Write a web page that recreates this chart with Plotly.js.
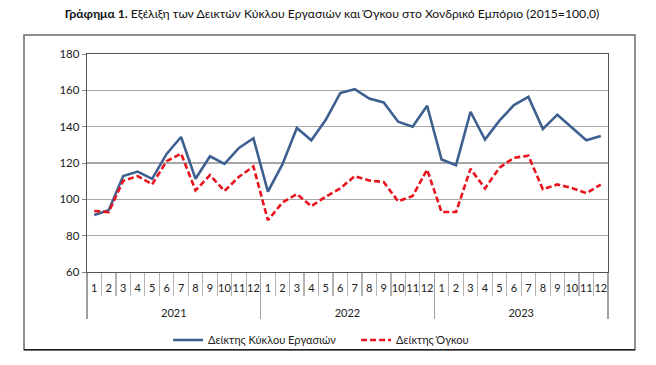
<!DOCTYPE html>
<html>
<head>
<meta charset="utf-8">
<script src="https://cdn.plot.ly/plotly-3.0.1.min.js"></script>
<style>
html,body{margin:0;padding:0;background:#fff;}
#chart{width:656px;height:365px;}
</style>
</head>
<body>
<div id="chart"></div>
<script>
const years = ['2021', '2022', '2023'];
const months = ['1','2','3','4','5','6','7','8','9','10','11','12'];
const turnoverIndex = [
  91.4, 94.0, 112.8, 115.3, 111.3, 125.0, 134.3, 111.3, 123.7, 119.5, 128.3, 133.6,
  104.2, 119.2, 139.3, 132.5, 143.8, 158.5, 160.6, 155.5, 153.3, 142.7, 140.0, 151.5,
  121.9, 118.8, 148.2, 132.9, 143.3, 151.9, 156.4, 138.7, 146.6, 139.6, 132.5, 134.9
];
const volumeIndex = [
  93.6, 93.0, 110.2, 112.8, 108.2, 121.0, 125.2, 104.9, 113.3, 104.6, 112.4, 118.1,
  88.5, 98.2, 102.9, 96.2, 101.5, 106.0, 112.8, 110.4, 109.5, 98.9, 101.8, 116.4,
  93.0, 93.0, 116.8, 106.0, 117.4, 122.9, 124.0, 105.5, 108.2, 106.2, 103.4, 108.1
];
const seriesNames = ['Δείκτης Κύκλου Εργασιών', 'Δείκτης Όγκου'];
const yTicks = [60, 80, 100, 120, 140, 160, 180];

// category keys (one per month) and their month labels
const xKeys = [], xMonthText = [];
years.forEach(y => months.forEach(m => { xKeys.push(y + '-' + m); xMonthText.push(m); }));
// year group centres and boundaries in category-index units
const n = months.length;
const xRange = [-0.5, xKeys.length - 0.5];
const yearCentres = years.map((_, i) => i * n + (n - 1) / 2);
const yearBounds = [-0.5].concat(years.map((_, i) => (i + 1) * n - 0.5));

const FONT = 'Lato, "Open Sans", sans-serif';

const traces = [
  {x: xKeys, y: turnoverIndex, name: seriesNames[0], type: 'scatter', mode: 'lines',
   line: {color: '#3d6091', width: 2.6}},
  {x: xKeys, y: volumeIndex, name: seriesNames[1], type: 'scatter', mode: 'lines',
   line: {color: '#e8141e', width: 2.6, dash: '6px,3px'}},
  {x: [null], y: [null], xaxis: 'x2', yaxis: 'y', showlegend: false, hoverinfo: 'skip', type: 'scatter', mode: 'lines'}
];

const layout = {
  width: 656, height: 365,
  margin: {l: 87, r: 48, t: 54, b: 92},
  paper_bgcolor: '#fff', plot_bgcolor: '#fff',
  font: {family: FONT, size: 11, color: '#222'},
  title: {text: '<b>Γράφημα 1.</b> Εξέλιξη των Δεικτών Κύκλου Εργασιών και Όγκου στο Χονδρικό Εμπόριο (2015=100,0)',
          font: {family: FONT, size: 12.2, color: '#111'}, x: 0.506, xref: 'container', xanchor: 'center',
          y: 0.962, yref: 'container', yanchor: 'middle'},
  showlegend: true,
  legend: {orientation: 'h', x: 0.5165, xanchor: 'center', y: -0.306, yanchor: 'middle',
           bgcolor: 'rgba(0,0,0,0)',
           font: {family: FONT, size: 11, color: '#222'}, itemwidth: 30, tracegroupgap: 0,
           entrywidth: 143, entrywidthmode: 'pixels'},
  xaxis: {type: 'category', categoryorder: 'array', categoryarray: xKeys, range: xRange,
          tickmode: 'array', tickvals: xKeys, ticktext: xMonthText,
          showline: true, linecolor: '#555', linewidth: 1.3, mirror: true,
          ticks: 'outside', ticklen: 23, tickcolor: '#b4b4b4', tickwidth: 1.2, tickson: 'boundaries',
          tickangle: 0, ticklabelstandoff: 5,
          tickfont: {family: FONT, size: 11, color: '#222'}, showgrid: false},
  xaxis2: {type: 'linear', overlaying: 'x', side: 'bottom', anchor: 'y', range: xRange,
           tickmode: 'array', tickvals: yearCentres, ticktext: years, ticks: '', ticklabelstandoff: 33,
           minor: {tickmode: 'array', tickvals: yearBounds, ticks: 'outside', ticklen: 46,
                   tickcolor: '#a0a0a0', tickwidth: 1.2, showgrid: false},
           showline: false, showgrid: false, zeroline: false,
           tickfont: {family: FONT, size: 11, color: '#222'}},
  yaxis: {range: [60, 180], tickvals: yTicks, showline: true, linecolor: '#555', linewidth: 1.3, mirror: true,
          ticks: 'outside', ticklen: 4, tickcolor: '#888', showgrid: true, gridcolor: '#a8a8a8', gridwidth: 1.3,
          zeroline: false, tickfont: {family: FONT, size: 11.5, color: '#222'}},
  shapes: [
    {type: 'rect', xref: 'paper', yref: 'paper',
     x0: (24 - 87) / 521, x1: (635 - 87) / 521, y0: (273 - 351) / 219, y1: (273 - 35) / 219,
     line: {color: '#6a6a6a', width: 1.5}, fillcolor: 'rgba(0,0,0,0)', layer: 'below'},
    {type: 'line', xref: 'paper', yref: 'paper',
     x0: (24 - 87) / 521, x1: (635 - 87) / 521, y0: (273 - 351) / 219, y1: (273 - 351) / 219,
     line: {color: '#222', width: 1.5}, layer: 'above'}
  ]
};

Plotly.newPlot('chart', traces, layout, {displayModeBar: false, staticPlot: true});
</script>
</body>
</html>
